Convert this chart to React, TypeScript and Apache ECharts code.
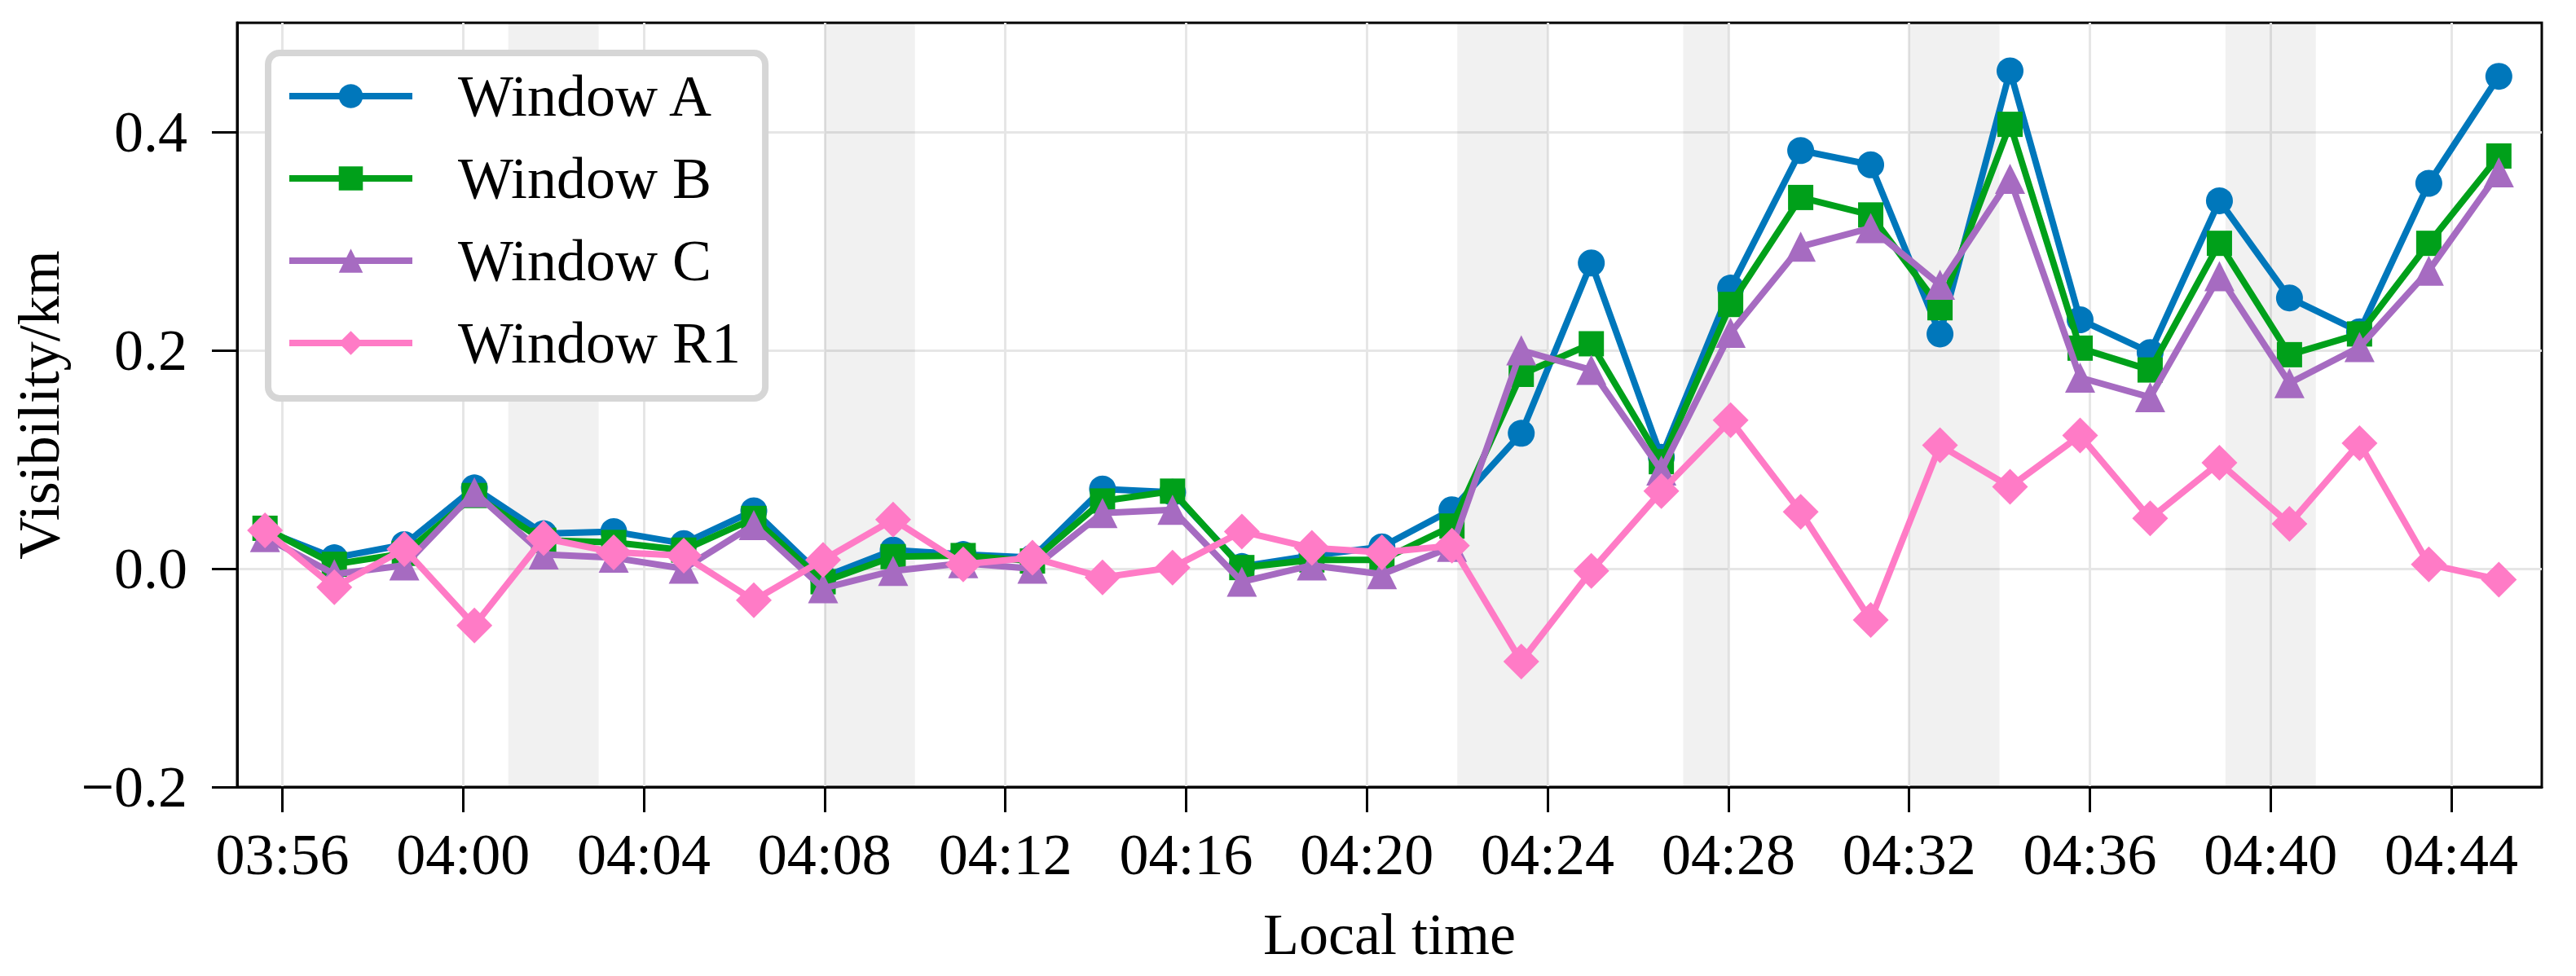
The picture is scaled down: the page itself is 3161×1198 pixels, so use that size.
import React, { useEffect, useRef } from "react";
import * as echarts from "echarts";

const TIMES = ["03:55:37","03:57:09","03:58:42","04:00:15","04:01:47","04:03:20","04:04:53","04:06:26","04:07:58","04:09:31","04:11:04","04:12:36","04:14:09","04:15:42","04:17:14","04:18:47","04:20:20","04:21:53","04:23:25","04:24:58","04:26:31","04:28:03","04:29:36","04:31:09","04:32:41","04:34:14","04:35:47","04:37:20","04:38:52","04:40:25","04:41:58","04:43:30","04:45:03"];

const WINDOW_A = [0.035,0.010,0.022,0.074,0.032,0.034,0.023,0.053,-0.008,0.017,0.013,0.010,0.073,0.070,0.002,0.012,0.020,0.054,0.124,0.280,0.102,0.257,0.383,0.370,0.215,0.456,0.228,0.198,0.337,0.248,0.217,0.353,0.451];
const WINDOW_B = [0.037,0.004,0.014,0.067,0.026,0.024,0.017,0.046,-0.012,0.011,0.012,0.007,0.062,0.071,0.001,0.008,0.008,0.039,0.178,0.206,0.098,0.242,0.340,0.324,0.239,0.407,0.202,0.182,0.298,0.196,0.215,0.298,0.378];
const WINDOW_C = [0.029,-0.005,0.003,0.070,0.013,0.010,0.000,0.040,-0.018,-0.002,0.005,0.000,0.051,0.054,-0.012,0.003,-0.005,0.020,0.200,0.182,0.090,0.216,0.295,0.312,0.260,0.357,0.175,0.157,0.268,0.170,0.203,0.273,0.363];
const WINDOW_R1 = [0.035,-0.017,0.018,-0.052,0.028,0.015,0.012,-0.029,0.008,0.045,0.004,0.010,-0.008,0.001,0.034,0.019,0.015,0.021,-0.085,-0.002,0.071,0.136,0.052,-0.047,0.113,0.075,0.122,0.046,0.097,0.041,0.115,0.004,-0.010];

const BANDS = [["04:01","04:03"],["04:08","04:10"],["04:22","04:24"],["04:27","04:28"],["04:32","04:34"],["04:39","04:41"]];

const X_TICKS = ["03:56","04:00","04:04","04:08","04:12","04:16","04:20","04:24","04:28","04:32","04:36","04:40","04:44"];
const Y_TICKS = [-0.2, 0.0, 0.2, 0.4];
const X_MIN = "03:55";
const X_MAX = "04:46";
const Y_MIN = -0.2;
const Y_MAX = 0.5;

const SERIES = [
  { name: "Window A", data: WINDOW_A, color: "#0077BB", symbol: "circle", size: 33 },
  { name: "Window B", data: WINDOW_B, color: "#00A01A", symbol: "rect", size: 31 },
  { name: "Window C", data: WINDOW_C, color: "#A66BC1", symbol: "triangle", size: 37 },
  { name: "Window R1", data: WINDOW_R1, color: "#FF7BC6", symbol: "diamond", size: 44 },
];

const FONT = "'Liberation Serif', 'Times New Roman', 'DejaVu Serif', serif";
const FS = 72;

function toMin(s: string): number {
  const p = s.split(":").map(Number);
  return p[0] * 60 + p[1] + (p[2] || 0) / 60;
}

function fmtMin(v: number): string {
  const r = Math.round(v);
  const h = Math.floor(r / 60);
  const m = r % 60;
  return String(h).padStart(2, "0") + ":" + String(m).padStart(2, "0");
}

export default function App() {
  const ref = useRef<HTMLDivElement>(null);
  useEffect(() => {
    if (!ref.current) return;
    const chart = echarts.init(ref.current, null, { renderer: "svg" });
    const xTickVals = X_TICKS.map(toMin);
    const option: any = {
      animation: false,
      backgroundColor: "#ffffff",
      grid: {
        left: 291,
        right: 42,
        top: 28,
        bottom: 232,
        show: true,
        borderColor: "#000000",
        borderWidth: 3,
        backgroundColor: "transparent",
      },
      legend: {
        data: SERIES.map((s) => s.name),
        orient: "vertical",
        left: 329,
        top: 65,
        padding: [17, 30, 32, 22],
        itemWidth: 151,
        itemHeight: 37,
        itemGap: 29,
        backgroundColor: "#ffffff",
        borderColor: "#d6d6d6",
        borderWidth: 8,
        borderRadius: 14,
        lineStyle: { width: 8 },
        textStyle: {
          fontFamily: FONT,
          fontSize: FS,
          lineHeight: 72,
          color: "#000000",
          padding: [0, 0, 0, 51],
        },
      },
      xAxis: {
        type: "value",
        min: toMin(X_MIN),
        max: toMin(X_MAX),
        name: "Local time",
        nameLocation: "middle",
        nameGap: 145,
        nameTextStyle: { fontFamily: FONT, fontSize: FS, color: "#000000" },
        axisLine: { show: true, onZero: false, lineStyle: { color: "#000000", width: 3 } },
        axisTick: { show: true, inside: false, length: 31, lineStyle: { color: "#000000", width: 3 }, customValues: xTickVals },
        axisLabel: {
          customValues: xTickVals,
          margin: 47,
          fontFamily: FONT,
          fontSize: FS,
          color: "#000000",
          formatter: (v: number) => fmtMin(v),
        },
        splitLine: { show: true, lineStyle: { color: "#e6e6e6", width: 3 } },
      },
      yAxis: {
        type: "value",
        min: Y_MIN,
        max: Y_MAX,
        name: "Visibility/km",
        nameLocation: "middle",
        nameGap: 207,
        nameTextStyle: { fontFamily: FONT, fontSize: FS, color: "#000000" },
        axisLine: { show: true, onZero: false, lineStyle: { color: "#000000", width: 3 } },
        axisTick: { show: true, inside: false, length: 31, lineStyle: { color: "#000000", width: 3 }, customValues: Y_TICKS },
        axisLabel: {
          customValues: Y_TICKS,
          margin: 61,
          fontFamily: FONT,
          fontSize: FS,
          color: "#000000",
          formatter: (v: number) => v.toFixed(1).replace("-", "\u2212"),
        },
        splitLine: { show: true, lineStyle: { color: "#e6e6e6", width: 3 } },
      },
      series: [
        {
          type: "line",
          name: "__bands",
          data: [],
          z: 1,
          silent: true,
          markArea: {
            silent: true,
            itemStyle: { color: "rgba(0,0,0,0.055)" },
            data: BANDS.map(([a, b]) => [{ xAxis: toMin(a) }, { xAxis: toMin(b) }]),
          },
        },
        ...SERIES.map((s, k) => ({
          type: "line",
          name: s.name,
          z: 3 + k,
          data: TIMES.map((t, i) => [toMin(t), s.data[i]]),
          symbol: s.symbol,
          symbolSize: s.size,
          showAllSymbol: true,
          lineStyle: { color: s.color, width: 8 },
          itemStyle: { color: s.color, borderWidth: 0 },
          emphasis: { disabled: true },
        })),
      ],
    };
    chart.setOption(option);
    return () => chart.dispose();
  }, []);
  return (
    <div
      ref={ref}
      style={{ position: "fixed", left: 0, top: 0, width: "3161px", height: "1198px", background: "#fff" }}
    />
  );
}
